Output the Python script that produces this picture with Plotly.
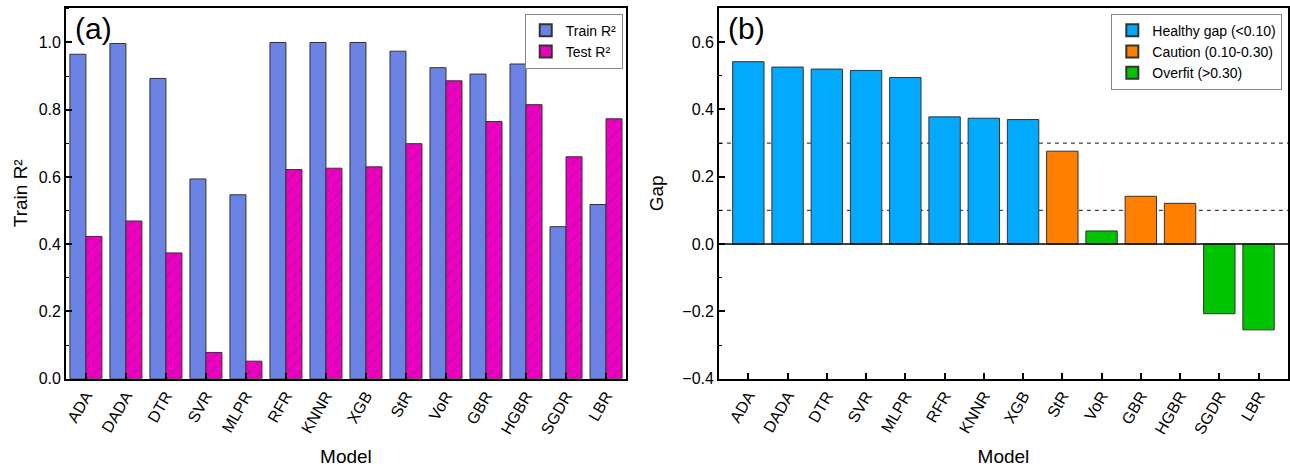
import plotly.graph_objects as go

models = ["ADA", "DADA", "DTR", "SVR", "MLPR", "RFR", "KNNR", "XGB", "StR", "VoR", "GBR", "HGBR", "SGDR", "LBR"]
train_r2 = [0.965, 0.997, 0.893, 0.594, 0.547, 1.000, 1.000, 1.000, 0.974, 0.925, 0.906, 0.936, 0.452, 0.518]
test_r2 = [0.423, 0.469, 0.374, 0.078, 0.052, 0.622, 0.626, 0.630, 0.699, 0.886, 0.765, 0.815, 0.660, 0.773]
gap = [0.542, 0.526, 0.520, 0.516, 0.495, 0.378, 0.374, 0.370, 0.276, 0.039, 0.142, 0.121, -0.207, -0.255]
gap_labels = ["Healthy gap (<0.10)", "Caution (0.10-0.30)", "Overfit (>0.30)"]
thresholds = [0.1, 0.3]

FONT = "Liberation Sans, Arial, sans-serif"
C_TRAIN = "#6B83E5"
C_TEST = "#EE00C2"
GAP_COLORS = ["#02A9FC", "#FF7F00", "#00C400"]
EDGE = "#333333"

fig = go.Figure()

fig.add_trace(go.Bar(
    x=models, y=train_r2, name="Train R²", xaxis="x", yaxis="y",
    marker=dict(color=C_TRAIN, line=dict(color=EDGE, width=1)),
    legend="legend",
))
fig.add_trace(go.Bar(
    x=models, y=test_r2, name="Test R²", xaxis="x", yaxis="y",
    marker=dict(color=C_TEST, line=dict(color=EDGE, width=1),
                pattern=dict(shape="/", fgcolor="#7A1A6A", bgcolor=C_TEST,
                             size=9, solidity=0.12)),
    legend="legend",
))

# classify gap bars
def group_of(g):
    if g > thresholds[1]:
        return 0
    if g > thresholds[0]:
        return 1
    return 2

for gi in range(3):
    xs = [m for m, g in zip(models, gap) if group_of(g) == gi]
    ys = [g for g in gap if group_of(g) == gi]
    fig.add_trace(go.Bar(
        x=xs, y=ys, name=gap_labels[gi], xaxis="x2", yaxis="y2",
        offsetgroup="gap",
        marker=dict(color=GAP_COLORS[gi], line=dict(color=EDGE, width=1)),
        legend="legend2",
    ))

xl = (64 / 1290, 625 / 1290)
xr = (718 / 1290, 1288 / 1290)
yd = (1 - 386 / 473, 1 - 8 / 473)

line_common = dict(
    showline=True, linecolor="black", linewidth=1.5, mirror=True,
    ticks="inside", tickcolor="black", tickwidth=1.5, ticklen=6,
    showgrid=False, zeroline=False,
)
ytick_font = dict(family=FONT, size=16, color="black")
xtick_font = dict(family=FONT, size=16, color="black")
title_font = dict(family=FONT, size=19, color="black")
minor = dict(dtick=0.1, ticks="inside", ticklen=3, tickcolor="black", tickwidth=1.2)

fig.update_layout(
    width=1290, height=473,
    margin=dict(l=0, r=0, t=0, b=0),
    paper_bgcolor="white", plot_bgcolor="white",
    font=dict(family=FONT, color="black"),
    barmode="group", bargap=0.2, bargroupgap=0,
    xaxis=dict(domain=list(xl), anchor="y", type="category",
               categoryorder="array", categoryarray=models,
               range=[-0.5, 13.5], tickangle=-60, tickfont=xtick_font,
               title=dict(text="Model", font=title_font, standoff=14),
               **line_common),
    yaxis=dict(domain=list(yd), anchor="x", range=[0, 1.103], dtick=0.2, tickformat=".1f",
               minor=minor, tickfont=ytick_font,
               title=dict(text="Train R²", font=title_font, standoff=6),
               **line_common),
    xaxis2=dict(domain=list(xr), anchor="y2", type="category",
                categoryorder="array", categoryarray=models,
                range=[-0.75, 13.75], tickangle=-60, tickfont=xtick_font,
                title=dict(text="Model", font=title_font, standoff=14),
                **line_common),
    yaxis2=dict(domain=list(yd), anchor="x2", range=[-0.4, 0.702], dtick=0.2, tickformat=".1f",
                minor=minor, tickfont=ytick_font,
                title=dict(text="Gap", font=title_font, standoff=14),
                **line_common),
    legend=dict(x=621.7 / 1290, y=1 - 14 / 473, xanchor="right", yanchor="top",
                bordercolor="#888888", borderwidth=1, bgcolor="white",
                font=dict(family=FONT, size=14), tracegroupgap=0,
                itemsizing="constant"),
    legend2=dict(x=1282.3 / 1290, y=1 - 14 / 473, xanchor="right", yanchor="top",
                 bordercolor="#888888", borderwidth=1, bgcolor="white",
                 font=dict(family=FONT, size=14), tracegroupgap=0,
                 itemsizing="constant"),
    showlegend=True,
)

# threshold dashed lines and zero line on the gap panel
for t in thresholds:
    fig.add_shape(type="line", xref="x2 domain", yref="y2", x0=0, x1=1, y0=t, y1=t,
                  line=dict(color="#444444", width=1.2, dash="4px,4px"), layer="below")
fig.add_shape(type="line", xref="x2 domain", yref="y2", x0=0, x1=1, y0=0, y1=0,
              line=dict(color="black", width=1.5), layer="above")

fig.add_annotation(text="(a)", xref="x domain", yref="y domain", x=0.012, y=0.995,
                   xanchor="left", yanchor="top", showarrow=False,
                   font=dict(family=FONT, size=30, color="black"))
fig.add_annotation(text="(b)", xref="x2 domain", yref="y2 domain", x=0.012, y=0.995,
                   xanchor="left", yanchor="top", showarrow=False,
                   font=dict(family=FONT, size=30, color="black"))

fig.write_html("out.html")
